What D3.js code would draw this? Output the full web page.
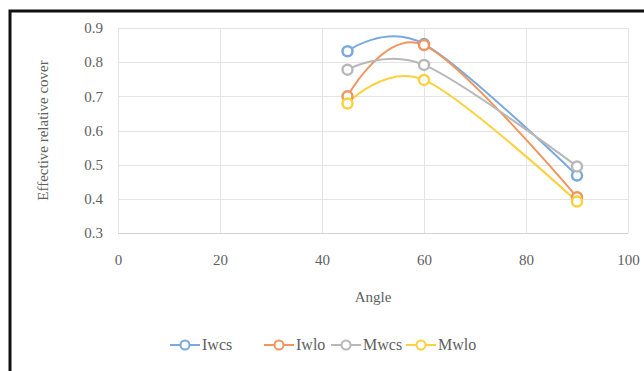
<!DOCTYPE html>
<html>
<head>
<meta charset="utf-8">
<script src="https://cdn.jsdelivr.net/npm/d3@7"></script>
<style>
    body { margin: 0; background: #fff; }
    svg { display: block; }
    text { font-family: 'Liberation Serif', 'Times New Roman', serif; fill: #606060; }
</style>
</head>
<body>
<div id="chart"></div>
<script>
    const angles = [45, 60, 90];
    const seriesNames = ['Iwcs', 'Iwlo', 'Mwcs', 'Mwlo'];
    const iwcsValues = [0.832, 0.853, 0.468];
    const iwloValues = [0.700, 0.850, 0.405];
    const mwcsValues = [0.778, 0.792, 0.495];
    const mwloValues = [0.679, 0.748, 0.392];
    const xTicks = [0, 20, 40, 60, 80, 100];
    const yTicks = [0.3, 0.4, 0.5, 0.6, 0.7, 0.8, 0.9];

    const colors = ['#7aaadd', '#f0955e', '#b8b8b8', '#fbd13e'];
    const allValues = [iwcsValues, iwloValues, mwcsValues, mwloValues];
    const series = seriesNames.map((name, i) => ({
        name,
        color: colors[i],
        points: angles.map((a, j) => ({ x: a, y: allValues[i][j] })),
    }));

    const width = 644;
    const height = 371;
    const margin = { top: 28, right: 16, bottom: 138, left: 118 };
    const innerW = width - margin.left - margin.right;
    const innerH = height - margin.top - margin.bottom;
    const serif = "'Liberation Serif', 'Times New Roman', serif";

    const svg = d3.select('#chart')
        .append('svg')
        .attr('width', width)
        .attr('height', height);

    // frame of the cropped figure
    svg.append('path')
        .attr('d', `M10,${height} V11 H${width}`)
        .attr('fill', 'none')
        .attr('stroke', '#111')
        .attr('stroke-width', 3);

    const g = svg.append('g')
        .attr('transform', `translate(${margin.left},${margin.top})`);

    const xScale = d3.scaleLinear().domain([0, 100]).range([0, innerW]);
    const yScale = d3.scaleLinear().domain([0.3, 0.9]).range([innerH, 0]);

    // gridlines
    g.append('g')
        .selectAll('line')
        .data(yTicks)
        .enter()
        .append('line')
        .attr('x1', 0)
        .attr('x2', innerW)
        .attr('y1', d => Math.round(yScale(d)) + 0.5)
        .attr('y2', d => Math.round(yScale(d)) + 0.5)
        .attr('stroke', d => d === 0.3 ? '#d4d4d4' : '#e4e4e4');

    g.append('g')
        .selectAll('line')
        .data(xTicks)
        .enter()
        .append('line')
        .attr('x1', d => Math.round(xScale(d)) + 0.5)
        .attr('x2', d => Math.round(xScale(d)) + 0.5)
        .attr('y1', 0)
        .attr('y2', innerH)
        .attr('stroke', '#e4e4e4');

    // axes (labels only)
    const xAxis = g.append('g')
        .attr('transform', `translate(0,${innerH})`)
        .call(d3.axisBottom(xScale).tickValues(xTicks).tickSize(0).tickPadding(21));
    xAxis.attr('font-family', serif).attr('font-size', 15);
    xAxis.select('.domain').remove();
    xAxis.selectAll('text').attr('fill', '#666');

    const yAxis = g.append('g')
        .call(d3.axisLeft(yScale).tickValues(yTicks).tickFormat(d3.format('.1f')).tickSize(0).tickPadding(15));
    yAxis.attr('font-family', serif).attr('font-size', 15);
    yAxis.select('.domain').remove();
    yAxis.selectAll('text').attr('fill', '#666');

    // axis titles
    svg.append('text')
        .attr('x', margin.left + innerW / 2)
        .attr('y', 302)
        .attr('text-anchor', 'middle')
        .style('font-size', '15px')
        .text('Angle');

    svg.append('text')
        .attr('transform', `translate(48,${margin.top + innerH / 2}) rotate(-90)`)
        .attr('text-anchor', 'middle')
        .style('font-size', '15px')
        .text('Effective relative cover');

    // smoothed lines
    const line = d3.line()
        .x(d => xScale(d.x))
        .y(d => yScale(d.y))
        .curve(d3.curveCatmullRom.alpha(0));

    series.forEach(s => {
        g.append('path')
            .datum(s.points)
            .attr('fill', 'none')
            .attr('stroke', s.color)
            .attr('stroke-width', 2)
            .attr('d', line);
    });

    series.forEach(s => {
        g.selectAll(null)
            .data(s.points)
            .enter()
            .append('circle')
            .attr('cx', d => xScale(d.x))
            .attr('cy', d => yScale(d.y))
            .attr('r', 5)
            .attr('fill', '#fff')
            .attr('stroke', s.color)
            .attr('stroke-width', 2.5);
    });

    // legend
    const legendX = [170, 264, 331, 406];
    const legend = svg.append('g').attr('transform', 'translate(0,345)');
    series.forEach((s, i) => {
        const lg = legend.append('g').attr('transform', `translate(${legendX[i]},0)`);
        lg.append('line')
            .attr('x1', 0).attr('x2', 30)
            .attr('y1', 0).attr('y2', 0)
            .attr('stroke', s.color)
            .attr('stroke-width', 2);
        lg.append('circle')
            .attr('cx', 15).attr('cy', 0).attr('r', 4.5)
            .attr('fill', '#fff')
            .attr('stroke', s.color)
            .attr('stroke-width', 2);
        lg.append('text')
            .attr('x', 32)
            .attr('y', 5)
            .style('font-size', '16px')
            .text(s.name);
    });
</script>
</body>
</html>
